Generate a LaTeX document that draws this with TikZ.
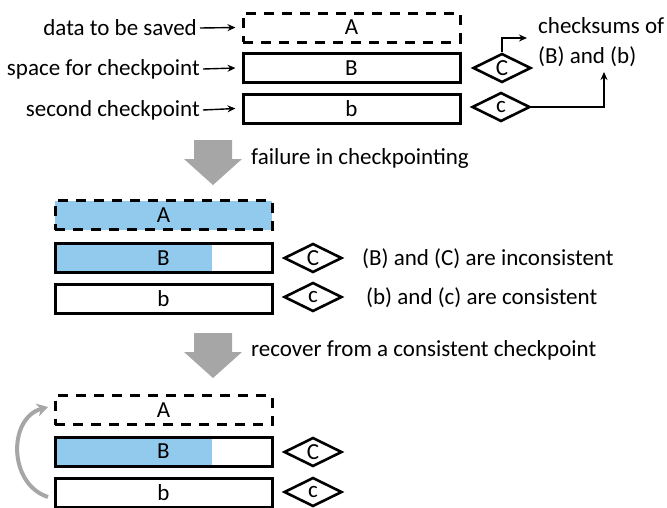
\documentclass[tikz,border=0pt]{standalone}
\usepackage{fontspec}
\setmainfont{Carlito}
\usetikzlibrary{shapes.geometric,arrows.meta}
\definecolor{cpblue}{RGB}{146,202,238}
\definecolor{cpgray}{RGB}{166,166,166}
\tikzset{
  membox/.style={draw=black, line width=3pt, minimum width=217pt, minimum height=29pt, inner sep=0pt},
  dashbox/.style={membox, dash pattern=on 10pt off 8pt},
  halffill/.style={path picture={\fill[cpblue] (path picture bounding box.south west) rectangle ([xshift=157pt]path picture bounding box.north west);}},
  sumbox/.style={draw=black, diamond, line width=2.6pt, minimum width=58pt, minimum height=29pt, inner sep=0pt, aspect=2},
  lbl/.style={inner sep=0pt},
  thin/.style={line width=1.4pt, -{Stealth[length=8pt,width=7pt]}},
  bigarrow/.style={fill=cpgray}
}
\begin{document}
\begin{tikzpicture}[x=1pt,y=-1pt, font=\fontsize{23}{30}\selectfont]
\useasboundingbox (0,0) rectangle (667,507);

% ---------- normal state ----------
\node[dashbox] (A1) at (351.5,27.5) {A};
\node[membox]  (B1) at (351.5,68) {B};
\node[membox]  (b1) at (351.5,108.5) {b};
\node[sumbox]  (C1) at (502,68) {C};
\node[sumbox]  (c1) at (501,107) {c};

\node[lbl, anchor=east] (l1) at (197,28) {data to be saved};
\node[lbl, anchor=east] (l2) at (200,69) {space for checkpoint};
\node[lbl, anchor=east] (l3) at (200,110) {second checkpoint};
\draw[thin] (l1.east) ++(3,0) -- ([xshift=-6pt]A1.west);
\draw[thin] (l2.east) ++(3,0) -- ([xshift=-6pt]B1.west);
\draw[thin] (l3.east) ++(3,0) -- ([xshift=-6pt]b1.west);

\node[lbl, anchor=west, align=left] (sums) at (538,42) {checksums of\\(B) and (b)};
\coordinate (s1) at (527,38);
\coordinate (s2) at (604,72);
\draw[thin] (C1.north) |- (s1);
\draw[thin] (c1.east) -| (s2);

% ---------- failure ----------
\fill[bigarrow] (194,140) -- (232,140) -- (232,159) -- (242,159) -- (213,185) -- (184,159) -- (194,159) -- cycle;
\node[lbl, anchor=west] (f1) at (251,158) {failure in checkpointing};

\node[dashbox, fill=cpblue] (A2) at (163.5,215) {A};
\node[membox, halffill]    (B2) at (163.5,258) {B};
\node[membox]              (b2) at (163.5,298.5) {b};
\node[sumbox] (C2) at (313,258) {C};
\node[sumbox] (c2) at (313,297) {c};
\node[lbl, anchor=west] (t1) at (362,259) {(B) and (C) are inconsistent};
\node[lbl, anchor=west] (t2) at (366,298) {(b) and (c) are consistent};

% ---------- recovery ----------
\fill[bigarrow] (194,333) -- (232,333) -- (232,352) -- (242,352) -- (213,378) -- (184,352) -- (194,352) -- cycle;
\node[lbl, anchor=west] (f2) at (251,350) {recover from a consistent checkpoint};

\node[dashbox]          (A3) at (163.5,410) {A};
\node[membox, halffill] (B3) at (163.5,451.5) {B};
\node[membox]           (b3) at (163.5,493) {b};
\node[sumbox] (C3) at (313,452) {C};
\node[sumbox] (c3) at (313,492) {c};

\coordinate (r0) at (48,497);
\coordinate (r1) at (48,407);
\draw[cpgray, line width=4pt, -{Stealth[length=11pt,width=13pt]}] (r0) .. controls (8,484) and (8,418) .. (r1);
\end{tikzpicture}
\end{document}
